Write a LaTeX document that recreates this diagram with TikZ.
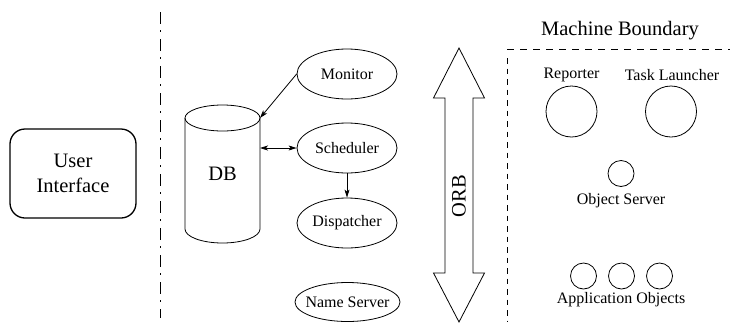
\documentclass[tikz,border=0pt]{standalone}
\usepackage{fontspec}
\setmainfont{Liberation Serif}
\usetikzlibrary{shapes.geometric,arrows.meta}

\begin{document}
\begin{tikzpicture}[x=1pt,y=-1pt,line width=0.8pt,
  every node/.style={font=\fontsize{16}{19}\selectfont},
  big/.style={font=\fontsize{20.5}{25.5}\selectfont},
  proc/.style={ellipse,draw,inner xsep=-6pt,inner ysep=0pt,minimum width=100pt,minimum height=50pt},
  obj/.style={circle,draw,inner sep=0pt,minimum size=#1},
  >={Stealth[length=8pt,width=5pt,inset=2pt]}
  ]
  \useasboundingbox (0,0) rectangle (730,322);

  % front end
  \node[big,draw,line width=1.3pt,rounded corners=15pt,minimum width=126pt,minimum height=89pt,align=center] (ui) at (73,173.5) {User\\Interface};
  \coordinate (cuttop) at (160,12);
  \coordinate (cutbot) at (160,318);
  \draw[dash pattern=on 12pt off 6pt on 1.5pt off 7.5pt] (cuttop) -- (cutbot);

  % back end: database drum
  \node[big] (db) at (222.5,174) {DB};
  \coordinate (dbtl) at (185,118);
  \coordinate (dbtr) at (260,118);
  \coordinate (dbbl) at (185,229);
  \draw (dbtl) -- (dbbl) arc[start angle=180,end angle=360,x radius=37.5pt,y radius=14pt] -- (dbtr);
  \draw (dbtr) arc[start angle=0,end angle=360,x radius=37.5pt,y radius=13pt];

  \node[proc] (mon) at (347,74) {Monitor};
  \node[proc] (sched) at (347,148) {Scheduler};
  \node[proc] (disp) at (347,223) {Dispatcher};
  \node[proc,minimum width=105pt,minimum height=39pt] (names) at (347.5,302) {Name Server};

  \draw[->] (mon.west) -- (dbtr);
  \draw[<->] (dbtr |- sched.west) -- (sched.west);
  \draw[->] (sched) -- (disp);

  % bus
  \draw (459,48) -- (484.5,98) -- (473,98) -- (473,273) -- (484.5,273) -- (459,322)
     -- (433.5,273) -- (445,273) -- (445,98) -- (433.5,98) -- cycle;
  \node[big,rotate=90] (orb) at (459,196) {ORB};

  % machine
  \node[big] (mach) at (620,31) {Machine Boundary};
  \coordinate (mtop) at (507,49);
  \coordinate (mright) at (730,49);
  \coordinate (mside) at (507,58);
  \coordinate (mbot) at (507,322);
  \draw[dash pattern=on 7pt off 6pt] (mtop) -- (mright);
  \draw[dash pattern=on 5.5pt off 5pt] (mside) -- (mbot);

  \node[obj=51pt] (rep) at (571.5,111.5) {};
  \node (reptext) at (571.5,75) {Reporter};
  \node[obj=51pt] (tl) at (671,111.5) {};
  \node (tltext) at (672,75) {Task Launcher};
  \node[obj=26pt] (os) at (621,173.5) {};
  \node (ostext) at (621,201) {Object Server};
  \node[obj=26pt] (app1) at (583.5,276) {};
  \node[obj=26pt] (app2) at (621.5,276) {};
  \node[obj=26pt] (app3) at (659.5,276) {};
  \node (apptext) at (621,300) {Application Objects};
\end{tikzpicture}
\end{document}
